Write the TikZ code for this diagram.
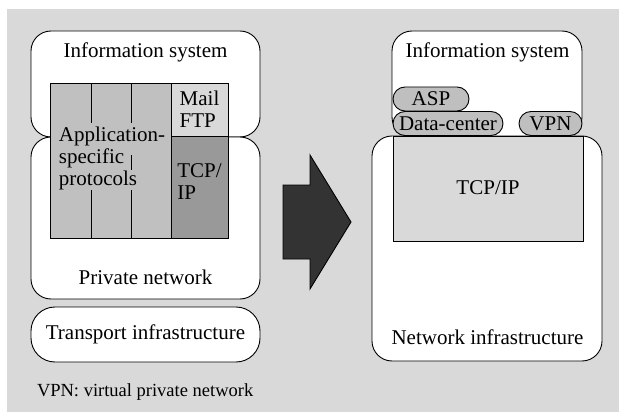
\documentclass[tikz,border=0pt]{standalone}
\usepackage{fontspec}
\setmainfont{Liberation Serif}
\definecolor{bggray}{HTML}{D9D9D9}
\definecolor{appgray}{HTML}{C0C0C0}
\definecolor{tcpgray}{HTML}{999999}
\definecolor{pillgray}{HTML}{BFBFBF}
\definecolor{arrowgray}{HTML}{333333}
\begin{document}
\begin{tikzpicture}[x=1pt,y=-1pt,line width=0.9pt,
    every node/.style={font=\fontsize{21}{22}\selectfont,inner sep=0pt,outer sep=0pt},
    box/.style={draw,fill=white,rounded corners=20pt},
    pill/.style={draw,fill=pillgray,rounded corners=12pt,minimum height=24pt}]
    \useasboundingbox (0,0) rectangle (619,412);
    \fill[bggray] (7,9) rectangle (619,412);
    % left side
    \node[box,minimum width=229pt,minimum height=106pt] (infoL) at (145.5,84) {};
    \node[box,minimum width=229pt,minimum height=162pt] (privL) at (145.5,218) {};
    \node[box,rounded corners=24pt,minimum width=229pt,minimum height=55pt] (transL) at (145.5,334.5) {Transport infrastructure};
    \node (infoLtxt) at (145.5,52) {Information system};
    \node (privLtxt) at (145.5,277) {Private network};
    \draw[fill=appgray] (50,83) rectangle (171,238);
    \draw[fill=bggray] (171,83) rectangle (228,136);
    \draw[fill=tcpgray] (171,136) rectangle (228,238);
    \foreach \x in {91,131} {
        \draw (\x,83) -- (\x,123);
        \draw (\x,190) -- (\x,238);
    }
    \draw (131,155) -- (131,170);
    \node[align=left] (apps) at (112,158) {Application-\\specific\\protocols};
    \node[align=left] (mail) at (199.5,109.5) {Mail\\FTP};
    \node[align=left] (tcpL) at (199.5,182) {TCP/\\IP};
    % arrow
    \draw[fill=arrowgray] (283,185) -- (310,185) -- (310,155) -- (351,222) -- (310,289) -- (310,259) -- (283,259) -- cycle;
    % right side
    \node[box,minimum width=190pt,minimum height=106pt] (infoR) at (487,84) {};
    \node[box,minimum width=230pt,minimum height=225pt] (netR) at (487,248.5) {};
    \draw[fill=bggray] (393,136) rectangle (583,241);
    \node (infoRtxt) at (487.5,52) {Information system};
    \node (tcpR) at (488,188) {TCP/IP};
    \node (netRtxt) at (487.5,337) {Network infrastructure};
    \node[pill,minimum width=76pt] (asp) at (431,99) {ASP};
    \node[pill,minimum width=110pt] (dc) at (448,123.5) {Data-center};
    \node[pill,minimum width=63pt] (vpn) at (550.5,123.5) {VPN};
    % note
    \node[anchor=west,font=\fontsize{18.5}{20}\selectfont] (note) at (37,392) {VPN: virtual private network};
\end{tikzpicture}
\end{document}
